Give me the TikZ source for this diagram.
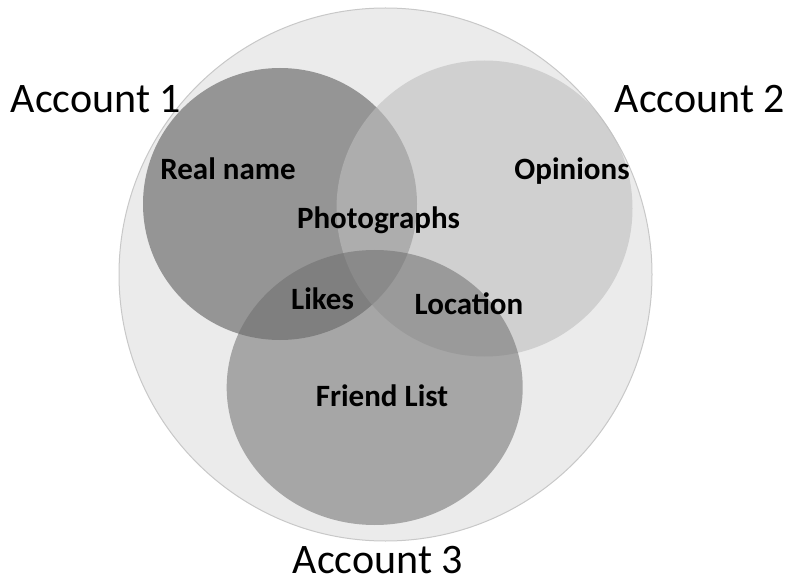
\documentclass[tikz,border=0pt]{standalone}
\usepackage{fontspec}
\setmainfont{Carlito}
\definecolor{outerfill}{RGB}{235,235,235}
\definecolor{outerline}{RGB}{200,200,200}
\definecolor{aone}{RGB}{80,80,80}
\definecolor{atwo}{RGB}{190,190,190}
\definecolor{athree}{RGB}{110,110,110}
\tikzset{
  acct/.style={font=\fontsize{42}{50}\selectfont, text=black, inner sep=0pt, anchor=base},
  item/.style={font=\fontsize{31}{37}\selectfont\bfseries, text=black, inner sep=0pt, anchor=base},
}
\begin{document}
\begin{tikzpicture}[x=1pt,y=-1pt]
\useasboundingbox (0,0) rectangle (788,583);
% outer circle
\fill[outerfill, draw=outerline, line width=1pt] (385.5,274.5) circle [radius=266.5];
% account circles
\fill[aone, opacity=0.55] (280,204) ellipse [x radius=137, y radius=136];
\fill[atwo, opacity=0.6] (484.5,208.5) circle [radius=148];
\fill[athree, opacity=0.55] (374.7,387.5) ellipse [x radius=148, y radius=137.5];
% account labels
\node[acct] (a1) at (96,113) {Account 1};
\node[acct] (a2) at (700,113) {Account 2};
\node[acct] (a3) at (378,573) {Account 3};
% item labels
\node[item] (real) at (228,180) {Real name};
\node[item] (opin) at (572,180) {Opinions};
\node[item] (photo) at (378.5,229) {Photographs};
\node[item] (likes) at (322.5,309) {Likes};
\node[item] (loc) at (469,314) {Location};
\node[item] (friend) at (382,406) {Friend List};
\end{tikzpicture}
\end{document}
